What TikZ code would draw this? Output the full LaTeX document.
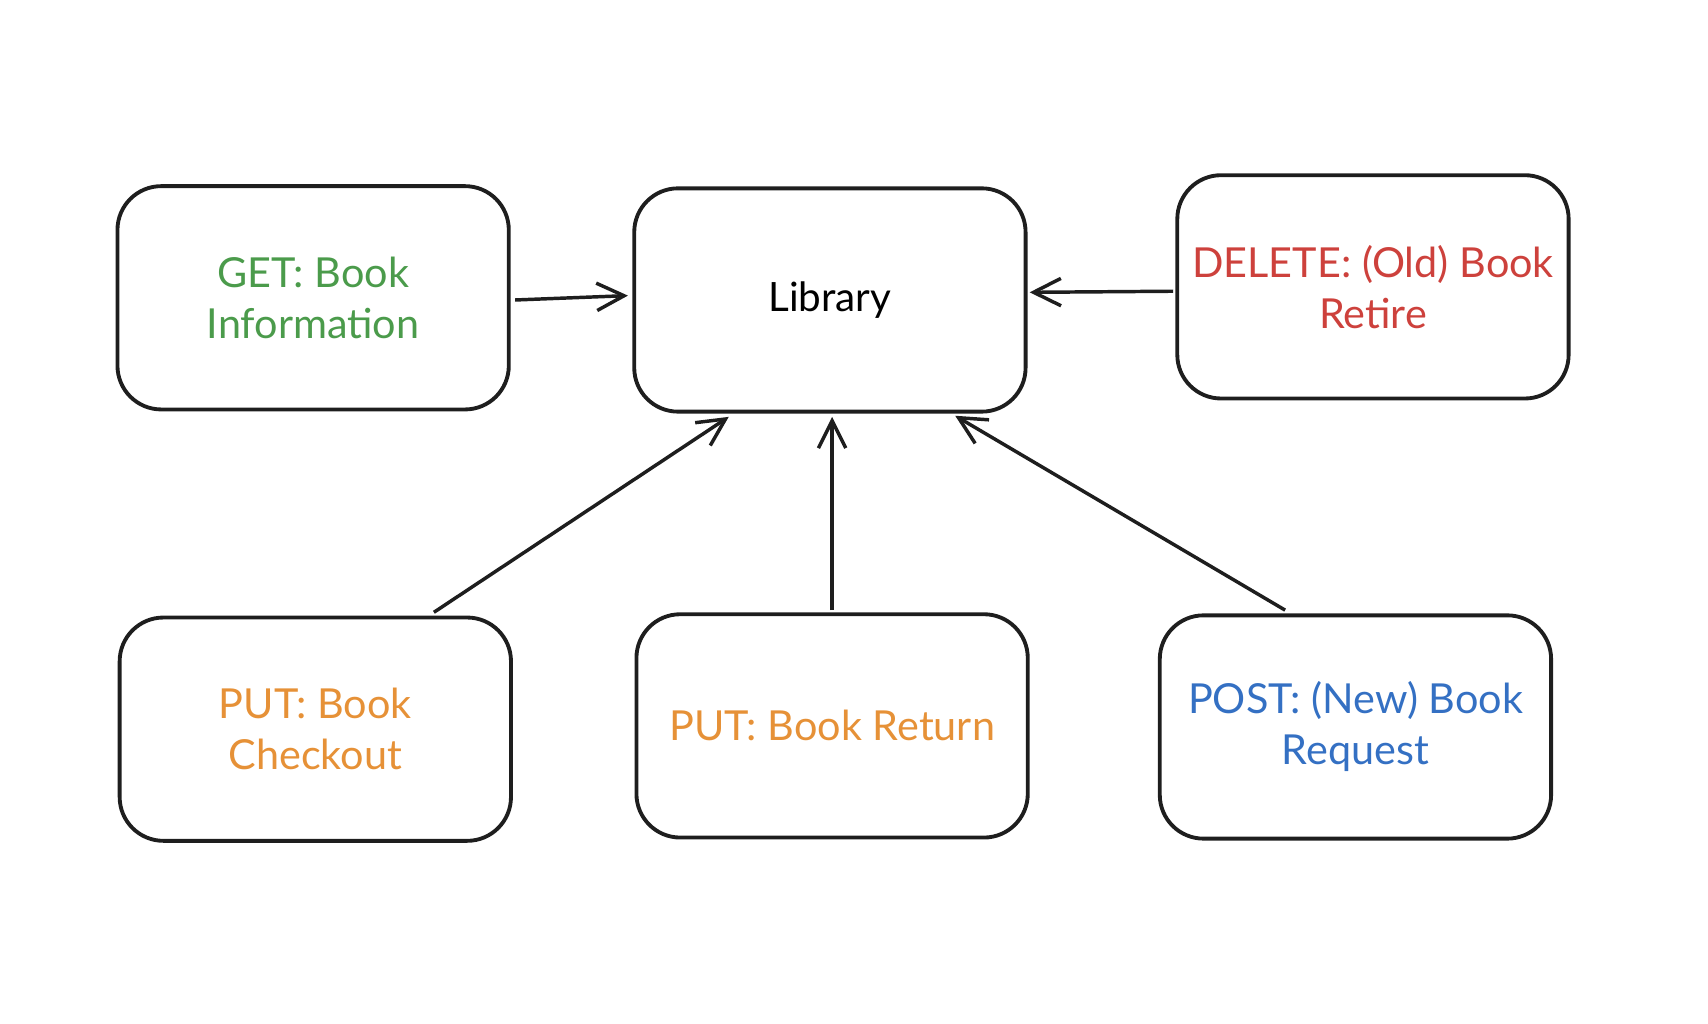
\documentclass[tikz,border=0pt]{standalone}
\usepackage{fontspec}
\setmainfont{Lato}
\usetikzlibrary{arrows.meta,calc}
\definecolor{cgreen}{HTML}{4B9B4B}
\definecolor{cred}{HTML}{CD413C}
\definecolor{corange}{HTML}{E69137}
\definecolor{cblue}{HTML}{3470C3}
\definecolor{cink}{HTML}{1E1E1E}
\begin{document}
\begin{tikzpicture}[x=0.02cm,y=-0.02cm,
  box/.style={draw=cink, line width=2pt, rounded corners=0.8cm,
    minimum width=7.15cm, minimum height=4.08cm, align=center,
    font=\fontsize{21.5}{26.5}\selectfont},
  conn/.style={draw=cink, line width=1.8pt,
    -{Straight Barb[length=0.5cm,width=0.5cm,line width=1.8pt]}}]
\useasboundingbox (0,0) rectangle (1560,935);
\node[box, text=cgreen] (get) at (286,272) {GET: Book\\Information};
\node[box] (lib) at (758,274) {\fontsize{21}{24}\selectfont Library};
\node[box, text=cred] (del) at (1254,262) {DELETE: (Old) Book\\Retire};
\node[box, text=corange] (chk) at (288,666) {PUT: Book\\Checkout};
\node[box, text=corange] (ret) at (760,663) {PUT: Book Return};
\node[box, text=cblue] (post) at (1238,664) {POST: (New) Book\\Request};
\draw[conn] ($(get.east)+(4,2)$) -- ($(lib.west)+(-4,-4)$);
\draw[conn] ($(del.west)+(-2,4)$) -- ($(lib.east)+(2,-7)$);
\draw[conn] ($($(chk.north west)!0.8!(chk.north east)$)+(0,-3)$) -- ($($(lib.south west)!0.244!(lib.south east)$)+(0,3)$);
\draw[conn] ($(ret.north)+(0,-2)$) -- ($(lib.south)+(2,3)$);
\draw[conn] ($($(post.north west)!0.322!(post.north east)$)+(0,-3)$) -- ($($(lib.south west)!0.817!(lib.south east)$)+(0,2)$);
\end{tikzpicture}
\end{document}
